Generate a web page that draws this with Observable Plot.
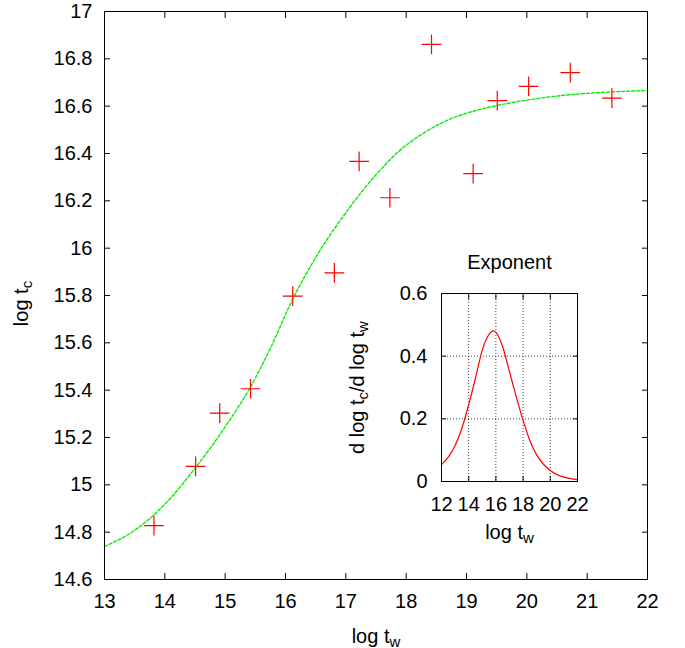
<!DOCTYPE html>
<html><head><meta charset="utf-8">
<script src="https://cdn.jsdelivr.net/npm/d3@7"></script>
<script src="https://cdn.jsdelivr.net/npm/@observablehq/plot@0.6"></script>
<style>
html,body{margin:0;padding:0;background:#fff;}
#chart{position:relative;width:685px;height:648px;}
#inset{position:absolute;left:330px;top:240px;}
</style></head>
<body><div id="chart"><div id="main"></div><div id="inset"></div></div>
<script>
// Measured points (log t_w, log t_c)
const pointX = [13.82, 14.51, 14.91, 15.42, 16.12, 16.81, 17.22, 17.73, 18.42, 19.11, 19.51, 20.03, 20.72, 21.41];
const pointY = [14.828, 15.078, 15.303, 15.406, 15.797, 15.896, 16.367, 16.213, 16.861, 16.315, 16.623, 16.684, 16.742, 16.634];
// Fitted curve
const fitX = [13.0, 13.5, 14.0, 14.5, 15.0, 15.42, 15.75, 16.12, 16.5, 17.0, 17.5, 17.85, 18.25, 18.68, 19.1, 19.51, 20.06, 20.62, 21.17, 22.0];
const fitY = [14.74, 14.808, 14.918, 15.07, 15.245, 15.414, 15.577, 15.785, 15.96, 16.15, 16.31, 16.403, 16.48, 16.54, 16.578, 16.603, 16.628, 16.646, 16.657, 16.666];
// Inset: exponent d log t_c / d log t_w
const expX = [12.0, 12.5, 13.0, 13.5, 14.0, 14.5, 15.0, 15.5, 15.8, 16.0, 16.5, 17.0, 17.5, 18.0, 18.5, 19.0, 19.5, 20.0, 20.5, 21.0, 21.5, 22.0];
const expY = [0.054, 0.078, 0.115, 0.17, 0.245, 0.33, 0.42, 0.47, 0.481, 0.476, 0.43, 0.35, 0.27, 0.195, 0.13, 0.085, 0.055, 0.035, 0.022, 0.014, 0.009, 0.006];
// Tick values
const mainXTicks = [13, 14, 15, 16, 17, 18, 19, 20, 21, 22];
const mainYTicks = [14.6, 14.8, 15, 15.2, 15.4, 15.6, 15.8, 16, 16.2, 16.4, 16.6, 16.8, 17];
const insetXTicks = [12, 14, 16, 18, 20, 22];
const insetYTicks = [0, 0.2, 0.4, 0.6];
const insetGridX = [14, 16, 18, 20];
const insetGridY = [0.2, 0.4];

const FONT = "'Liberation Sans', Arial, Helvetica, sans-serif";
const pts = pointX.map((x, i) => ({x, y: pointY[i]}));
const fit = fitX.map((x, i) => ({x, y: fitY[i]}));
const expo = expX.map((x, i) => ({x, y: expY[i]}));
const fmt1 = d3.format(".1~f");

const main = Plot.plot({
  width: 685, height: 648,
  marginLeft: 104, marginRight: 38, marginTop: 11, marginBottom: 69,
  style: {fontFamily: FONT, fontSize: "20px", color: "#000", background: "#fff"},
  x: {domain: [13, 22], label: null},
  y: {domain: [14.6, 17], label: null},
  marks: [
    Plot.line(fit, {x: "x", y: "y", stroke: "#00ee00", strokeWidth: 1.4, strokeDasharray: "3,2", curve: "monotone-x"}),
    Plot.dot(pts, {x: "x", y: "y", symbol: "plus", r: 6.4, stroke: "#ff0000", strokeWidth: 1.2}),
    Plot.frame({stroke: "#000", strokeWidth: 1}),
    Plot.axisX(mainXTicks, {anchor: "bottom", tickSize: -6, tickPadding: 20, tickFormat: d => String(d), label: null, fontSize: 20}),
    Plot.axisX(mainXTicks, {anchor: "top", tickSize: -6, tickFormat: () => "", label: null}),
    Plot.axisY(mainYTicks, {anchor: "left", tickSize: -6, tickPadding: 18, tickFormat: fmt1, label: null, fontSize: 20}),
    Plot.axisY(mainYTicks, {anchor: "right", tickSize: -6, tickFormat: () => "", label: null}),
    Plot.text(["log t_w"], {frameAnchor: "bottom", dy: 63, lineAnchor: "bottom", textAnchor: "middle", fontSize: 20}),
    Plot.text(["log t_c"], {frameAnchor: "left", dx: -77, dy: 8, rotate: -90, lineAnchor: "bottom", textAnchor: "middle", fontSize: 20})
  ]
});

const inset = Plot.plot({
  width: 280, height: 320,
  marginLeft: 111, marginRight: 33, marginTop: 53, marginBottom: 79,
  style: {fontFamily: FONT, fontSize: "20px", color: "#000", background: "transparent"},
  x: {domain: [12, 22], label: null},
  y: {domain: [0, 0.6], label: null},
  marks: [
    Plot.gridX(insetGridX, {stroke: "#000", strokeOpacity: 0.75, strokeDasharray: "1,2"}),
    Plot.gridY(insetGridY, {stroke: "#000", strokeOpacity: 0.75, strokeDasharray: "1,2"}),
    Plot.line(expo, {x: "x", y: "y", stroke: "#ff0000", strokeWidth: 1.2, curve: "monotone-x"}),
    Plot.frame({stroke: "#000", strokeWidth: 1}),
    Plot.axisX(insetXTicks, {anchor: "bottom", tickSize: -5, tickPadding: 20, tickFormat: d => String(d), label: null, fontSize: 20}),
    Plot.axisX(insetXTicks, {anchor: "top", tickSize: -5, tickFormat: () => "", label: null}),
    Plot.axisY(insetYTicks, {anchor: "left", tickSize: -5, tickPadding: 19, tickFormat: d => String(d), label: null, fontSize: 20}),
    Plot.axisY(insetYTicks, {anchor: "right", tickSize: -5, tickFormat: () => "", label: null}),
    Plot.text(["Exponent"], {frameAnchor: "top", dy: -25, lineAnchor: "bottom", textAnchor: "middle", fontSize: 20}),
    Plot.text(["log t_w"], {frameAnchor: "bottom", dy: 57, lineAnchor: "bottom", textAnchor: "middle", fontSize: 20}),
    Plot.text(["d log t_c/d log t_w"], {frameAnchor: "left", dx: -78, rotate: -90, lineAnchor: "bottom", textAnchor: "middle", fontSize: 20})
  ]
});

function subscripts(svg) {
  const NS = "http://www.w3.org/2000/svg";
  svg.querySelectorAll("text").forEach(t => {
    const s = t.textContent;
    if (!s.includes("_")) return;
    const parts = s.split(/_(\w)/);
    while (t.firstChild) t.removeChild(t.firstChild);
    let shifted = false;
    parts.forEach((p, i) => {
      if (!p) return;
      const ts = document.createElementNS(NS, "tspan");
      ts.textContent = p;
      if (i % 2 === 1) {
        ts.setAttribute("dy", "4");
        ts.setAttribute("font-size", "15");
        shifted = true;
      } else if (shifted) {
        ts.setAttribute("dy", "-4");
        shifted = false;
      }
      t.appendChild(ts);
    });
  });
}
subscripts(main);
subscripts(inset);
document.getElementById("main").appendChild(main);
document.getElementById("inset").appendChild(inset);
</script></body></html>
